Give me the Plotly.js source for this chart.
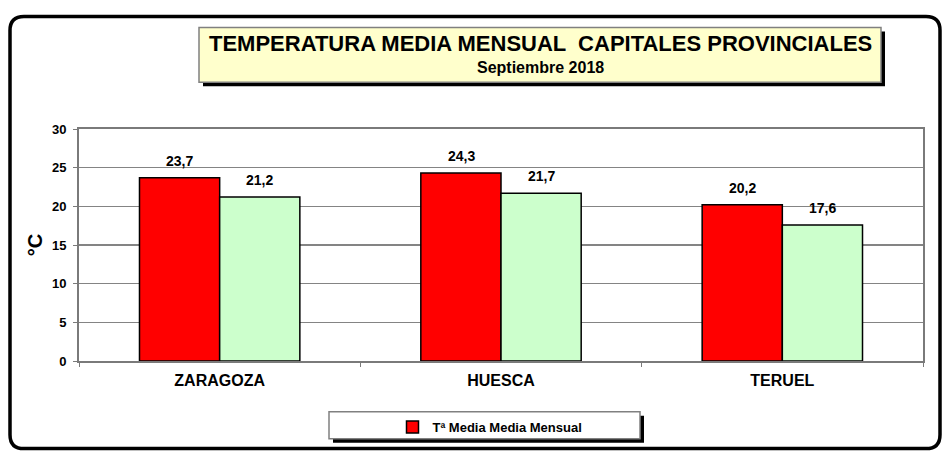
<!DOCTYPE html>
<html>
<head>
<meta charset="utf-8">
<script src="https://cdn.plot.ly/plotly-3.0.1.min.js"></script>
<style>
html,body{margin:0;padding:0;background:#fff;}
#chart{width:944px;height:453px;}
</style>
</head>
<body>
<div id="chart"></div>
<script>
// ---- data ----
var categories = ['ZARAGOZA', 'HUESCA', 'TERUEL'];
var mediaMensual = [23.7, 24.3, 20.2];
var segundaSerie = [21.2, 21.7, 17.6];
var seriesNames = ['Tª Media Media Mensual', 'Tª Media Normal'];
var yTickVals = [0, 5, 10, 15, 20, 25, 30];
var yTickText = ['0', '5', '10', '15', '20', '25', '30'];
var titleLines = ['TEMPERATURA MEDIA MENSUAL  CAPITALES PROVINCIALES', 'Septiembre 2018'];

// ---- layout geometry (pixels) ----
var W = 944, H = 453;
var L = 79, R = 923, T = 129, B = 362;
function px(x) { return (x - L) / (R - L); }
function py(y) { return (B - y) / (B - T); }

var font = 'Liberation Sans, Arial, sans-serif';
var barHalf = 40; // half bar width in px, for label placement

var traces = [
  {
    type: 'bar', x: categories, y: mediaMensual, name: seriesNames[0],
    marker: {color: '#FF0000', line: {color: '#000000', width: 1.5}},
    showlegend: true, hoverinfo: 'y'
  },
  {
    type: 'bar', x: categories, y: segundaSerie, name: seriesNames[1],
    marker: {color: '#CCFFCC', line: {color: '#000000', width: 1.5}},
    showlegend: false, hoverinfo: 'y'
  }
];

// outer rounded frame
var fx0 = px(10), fx1 = px(940), fy0 = py(16), fy1 = py(450);
var rx = 14 / (R - L), ry = 14 / (B - T);
var framePath = 'M ' + (fx0 + rx) + ' ' + fy0 +
  ' L ' + (fx1 - rx) + ' ' + fy0 +
  ' Q ' + fx1 + ' ' + fy0 + ' ' + fx1 + ' ' + (fy0 - ry) +
  ' L ' + fx1 + ' ' + (fy1 + ry) +
  ' Q ' + fx1 + ' ' + fy1 + ' ' + (fx1 - rx) + ' ' + fy1 +
  ' L ' + (fx0 + rx) + ' ' + fy1 +
  ' Q ' + fx0 + ' ' + fy1 + ' ' + fx0 + ' ' + (fy1 + ry) +
  ' L ' + fx0 + ' ' + (fy0 - ry) +
  ' Q ' + fx0 + ' ' + fy0 + ' ' + (fx0 + rx) + ' ' + fy0 + ' Z';

var shapes = [
  {type: 'path', xref: 'paper', yref: 'paper', path: framePath,
   line: {color: '#000', width: 3.5}, layer: 'below'},
  {type: 'rect', xref: 'paper', yref: 'paper',
   x0: px(203), x1: px(885), y0: py(31), y1: py(86),
   fillcolor: '#000', line: {width: 0}, layer: 'above'},
  {type: 'rect', xref: 'paper', yref: 'paper',
   x0: px(199), x1: px(881), y0: py(27), y1: py(82),
   fillcolor: '#FFFFCC', line: {color: '#808080', width: 1.5}, layer: 'above'},
  {type: 'rect', xref: 'paper', yref: 'paper',
   x0: px(333), x1: px(644), y0: py(417), y1: py(444),
   fillcolor: '#000', line: {width: 0}, layer: 'above'},
  {type: 'rect', xref: 'paper', yref: 'paper',
   x0: px(329), x1: px(640), y0: py(413), y1: py(440),
   fillcolor: '#FFFFFF', line: {color: '#808080', width: 1.5}, layer: 'above'}
];

var annotations = [
  {xref: 'paper', yref: 'paper', x: px(540), y: py(43), xanchor: 'center', yanchor: 'middle',
   text: titleLines[0], showarrow: false,
   font: {family: font, size: 22, color: '#000', weight: 'bold'}},
  {xref: 'paper', yref: 'paper', x: px(540), y: py(67), xanchor: 'center', yanchor: 'middle',
   text: titleLines[1], showarrow: false,
   font: {family: font, size: 16, color: '#000', weight: 'bold'}}
];

function fmt(v) { return v.toFixed(1).replace('.', ','); }
[mediaMensual, segundaSerie].forEach(function (arr, s) {
  arr.forEach(function (v, i) {
    annotations.push({
      x: categories[i], y: v, xref: 'x', yref: 'y',
      xshift: (s === 0 ? -barHalf : barHalf), yshift: 17,
      xanchor: 'center', yanchor: 'middle', showarrow: false,
      text: fmt(v),
      font: {family: font, size: 14, color: '#000', weight: 'bold'}
    });
  });
});

var layout = {
  width: W, height: H,
  margin: {l: L, r: W - R, t: T, b: H - B, pad: 0},
  paper_bgcolor: '#FFFFFF', plot_bgcolor: '#FFFFFF',
  separators: ',.',
  barmode: 'group', bargap: 0.43, bargroupgap: 0,
  showlegend: true,
  legend: {
    orientation: 'h', x: px(490), xanchor: 'center', y: py(427), yanchor: 'middle',
    bgcolor: 'rgba(0,0,0,0)', borderwidth: 0,
    font: {family: font, size: 13, color: '#000', weight: 'bold'},
    itemwidth: 30
  },
  xaxis: {
    type: 'category', showgrid: false, zeroline: false,
    showline: true, linecolor: '#7a7a7a', linewidth: 2, mirror: true,
    ticks: 'outside', tickson: 'boundaries', ticklen: 4, tickcolor: '#7a7a7a',
    ticklabelstandoff: 4,
    tickfont: {family: font, size: 16, color: '#000', weight: 'bold'}
  },
  yaxis: {
    range: [0, 30], tickvals: yTickVals, ticktext: yTickText,
    showgrid: true, gridcolor: '#848484', gridwidth: 1.5, zeroline: false,
    showline: true, linecolor: '#7a7a7a', linewidth: 2, mirror: true,
    ticks: 'outside', ticklen: 4, tickcolor: '#7a7a7a', ticklabelstandoff: 4,
    tickfont: {family: font, size: 13, color: '#000', weight: 'bold'},
    title: {text: '°C', font: {family: font, size: 20, color: '#000', weight: 'bold'}, standoff: 4}
  },
  shapes: shapes,
  annotations: annotations
};

Plotly.newPlot('chart', traces, layout, {displayModeBar: false, staticPlot: true});
</script>
</body>
</html>
